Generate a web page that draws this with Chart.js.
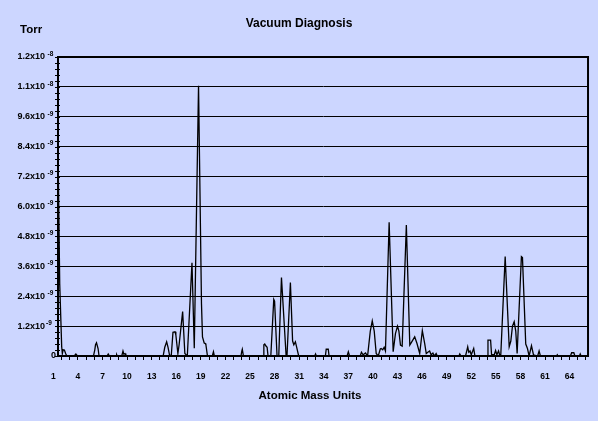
<!DOCTYPE html>
<html>
<head>
<meta charset="utf-8">
<script src="https://cdn.jsdelivr.net/npm/chart.js"></script>
<style>
  html, body { margin: 0; padding: 0; background: #ccd6ff; }
</style>
</head>
<body>
<canvas id="vacChart" width="598" height="421"></canvas>

<script>
    // mass scan: amu and pressure in units of 1e-9 Torr
    const amu = [
      1.57, 1.61, 1.78, 2.02, 2.1, 2.2, 2.35, 2.5, 2.65,
      3.55, 3.75, 3.95,
      5.9, 6.06, 6.15, 6.27, 6.46, 6.58,
      7.55, 7.7, 7.85, 8.65, 8.73, 8.8, 9.35, 9.5, 9.6, 9.75, 9.85,
      14.4, 14.6, 14.83, 15.0, 15.2, 15.4, 15.6, 15.85, 15.95, 16.2, 16.35, 16.78, 17.05, 17.35,
      17.92, 18.2, 18.72, 19.08, 19.2, 19.41, 19.55, 19.62, 19.81,
      20.4, 20.54, 20.65, 23.9, 24.0, 24.06, 24.2,
      26.6, 26.69, 26.8, 26.95, 27.09, 27.2, 27.54, 27.9, 28.0, 28.3,
      28.51, 28.84, 29.4, 29.52, 29.93, 30.2, 30.35, 30.54, 30.7, 30.94,
      32.9, 33.0, 33.1, 34.2, 34.3, 34.55, 34.65, 36.85, 37.0, 37.15,
      38.45, 38.6, 38.8, 39.1, 39.35, 39.68, 39.92, 40.16, 40.4, 40.65,
      40.9, 41.0, 41.2, 41.37, 41.53, 41.98, 42.47, 42.75, 43.0, 43.17, 43.36, 43.57,
      44.08, 44.5, 44.7, 45.1, 45.38, 45.71, 46.03, 46.32, 46.51, 46.7, 46.92, 47.1, 47.32, 47.5, 47.72, 47.85,
      50.5, 50.6, 50.75, 51.3, 51.45, 51.57, 51.7, 51.85, 52.0, 52.3, 52.45,
      53.96, 54.04, 54.36, 54.48, 54.81, 54.97, 55.13, 55.33, 55.5, 55.6,
      56.14, 56.63, 56.83, 57.03, 57.24, 57.43, 57.6, 58.12, 58.25, 58.65, 58.86, 59.06, 59.35, 59.59,
      60.1, 60.28, 60.44, 62.4, 62.5, 62.6, 64.1, 64.25, 64.52, 64.65, 65.2, 65.3, 65.4, 66.25
    ];
    const torr = [
      7.0, 7.3, 2.9, 0.37, 0.1, 0.25, 0.24, 0.1, 0,
      0, 0.08, 0,
      0, 0.25, 0.45, 0.53, 0.3, 0,
      0, 0.08, 0, 0, 0.05, 0, 0, 0.2, 0.08, 0.1, 0,
      0, 0.35, 0.57, 0.35, 0, 0.05, 0.95, 0.97, 0.85, 0.1, 0.45, 1.78, 0.1, 0,
      3.74, 0.31, 10.85, 2.1, 0.77, 0.52, 0.5, 0.45, 0,
      0, 0.17, 0, 0, 0.2, 0.27, 0,
      0, 0.45, 0.48, 0.4, 0.35, 0, 0, 2.27, 2.2, 0,
      0, 3.15, 0.05, 0.05, 2.95, 0.6, 0.45, 0.57, 0.35, 0,
      0, 0.08, 0, 0, 0.27, 0.27, 0, 0, 0.17, 0,
      0, 0.15, 0.05, 0.12, 0, 1.0, 1.41, 1.0, 0.1, 0,
      0.28, 0.3, 0.25, 0.35, 0.2, 5.37, 0.17, 0.9, 1.2, 1.0, 0.44, 0.4,
      5.26, 0.44, 0.55, 0.77, 0.5, 0.1, 1.02, 0.5, 0.1, 0.15, 0.2, 0.05, 0.12, 0, 0.1, 0,
      0, 0.08, 0, 0, 0.2, 0.37, 0.15, 0.2, 0.05, 0.3, 0,
      0, 0.64, 0.64, 0.05, 0.05, 0.22, 0.05, 0.2, 0, 0,
      3.99, 0.37, 0.6, 1.2, 1.38, 1.0, 0.1, 3.99, 3.95, 0.48, 0.3, 0, 0.41, 0.05,
      0, 0.2, 0, 0, 0.05, 0, 0, 0.13, 0.13, 0, 0, 0.08, 0, 0
    ];

    // axis ticks
    const xTicks = [];
    for (let m = 1; m <= 66; m++) xTicks.push(m);
    const yTicks = [0, 1.2, 2.4, 3.6, 4.8, 6.0, 7.2, 8.4, 9.6, 10.8, 12];
    const yBase = ['0', '1.2x10', '2.4x10', '3.6x10', '4.8x10', '6.0x10', '7.2x10', '8.4x10', '9.6x10', '1.1x10', '1.2x10'];
    const yExp = ['', '-9', '-9', '-9', '-9', '-9', '-9', '-9', '-9', '-8', '-8'];

    const FONT = '"Liberation Sans", Arial, sans-serif';

    const extras = {
      id: 'extras',
      afterDraw(chart) {
        const ctx = chart.ctx, a = chart.chartArea, y = chart.scales.y;
        ctx.save();
        ctx.strokeStyle = '#000';
        // right frame line
        ctx.lineWidth = 2;
        ctx.beginPath();
        ctx.moveTo(a.right, a.top - 1);
        ctx.lineTo(a.right, a.bottom + 1);
        ctx.stroke();
        // minor ticks on the left axis
        ctx.lineWidth = 1;
        for (let k = 0; k <= 50; k++) {
          const py = Math.round(y.getPixelForValue(k * 0.24)) + 0.5;
          ctx.beginPath();
          ctx.moveTo(a.left - 3, py);
          ctx.lineTo(a.left + 2, py);
          ctx.stroke();
        }
        // y labels with exponent
        ctx.fillStyle = '#000';
        ctx.textBaseline = 'middle';
        yTicks.forEach((v, i) => {
          const py = y.getPixelForValue(v);
          ctx.font = 'bold 9px ' + FONT;
          ctx.textAlign = 'right';
          if (!yExp[i]) {
            ctx.fillText(yBase[i], a.left - 2, py);
            return;
          }
          ctx.fillText(yBase[i], a.left - 13, py);
          ctx.font = 'bold 6.5px ' + FONT;
          ctx.textAlign = 'left';
          ctx.fillText(yExp[i], a.left - (i === 1 ? 12 : 10.5), py - 3);
        });
        ctx.font = 'bold 11.5px ' + FONT;
        ctx.textAlign = 'left';
        ctx.fillText('Torr', 20, 30);
        ctx.textAlign = 'center';
        ctx.fillText('Atomic Mass Units', 310, 396);
        ctx.restore();
      }
    };

    new Chart(document.getElementById('vacChart'), {
      type: 'line',
      data: {
        datasets: [{
          data: amu.map((m, i) => ({ x: m, y: torr[i] })),
          borderColor: '#000',
          borderWidth: 1.3,
          pointRadius: 0,
          tension: 0,
          fill: false
        }]
      },
      options: {
        responsive: false,
        animation: false,
        layout: { padding: { left: 7, right: 7, top: 0, bottom: 0 } },
        plugins: {
          legend: { display: false },
          tooltip: { enabled: false },
          title: {
            display: true,
            text: 'Vacuum Diagnosis',
            color: '#000',
            font: { family: FONT, size: 12, weight: 'bold' },
            padding: { top: 16.3, bottom: 26.3 }
          }
        },
        scales: {
          x: {
            type: 'linear',
            min: 1.57,
            max: 66.25,
            afterBuildTicks: s => { s.ticks = xTicks.map(v => ({ value: v })); },
            afterFit: s => { s.height = 65; },
            ticks: {
              autoSkip: false,
              maxRotation: 0,
              padding: 12,
              color: '#000',
              font: { family: FONT, size: 8.5, weight: 'bold' },
              callback: v => ((v - 1) % 3 === 0 ? String(v) : '')
            },
            grid: {
              drawOnChartArea: false,
              tickLength: 4,
              color: c => (c.tick && c.tick.value === 1 ? 'rgba(0,0,0,0)' : '#000')
            },
            border: { color: '#000', width: 2 }
          },
          y: {
            min: 0,
            max: 12,
            afterBuildTicks: s => { s.ticks = yTicks.map(v => ({ value: v })); },
            afterFit: s => { s.width = 51; },
            ticks: { display: false },
            grid: {
              drawTicks: false,
              color: '#000',
              lineWidth: c => (c.tick && c.tick.value === 12 ? 2 : 1)
            },
            border: { color: '#000', width: 2 }
          }
        }
      },
      plugins: [extras]
    });
</script>
</body>
</html>
